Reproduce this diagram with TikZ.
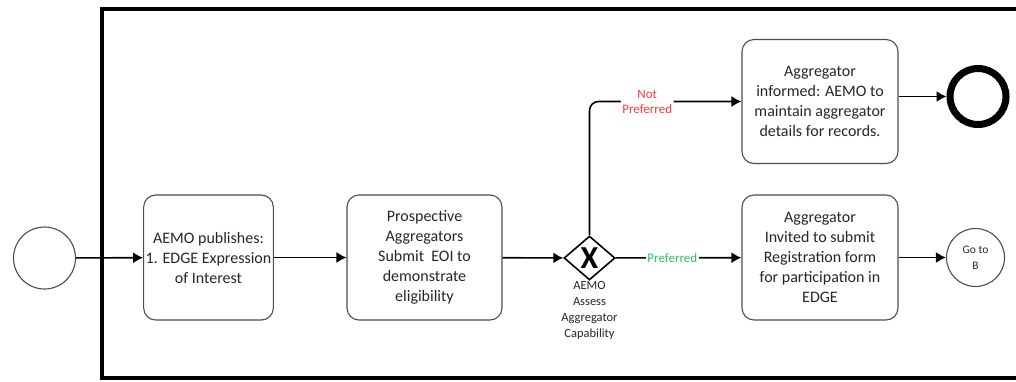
\documentclass[tikz,border=0pt]{standalone}
\usepackage{fontspec}
\setmainfont{Carlito}
\usetikzlibrary{arrows.meta,shapes.geometric}
\definecolor{txt}{HTML}{262626}
\definecolor{edgegray}{HTML}{4D4D4D}
\definecolor{npred}{HTML}{FF3B3B}
\definecolor{pgreen}{HTML}{2DC462}
\tikzset{
  task/.style={draw=edgegray, line width=1.1pt, rounded corners=12pt, align=center, text=txt,
    font=\fontsize{16}{20}\selectfont, inner sep=2pt},
  flow/.style={draw=black, line width=1.6pt, -{Latex[length=10pt,width=11pt]}},
  evt/.style={circle, draw=edgegray, line width=1.1pt, inner sep=0pt},
  lbl/.style={fill=white, inner sep=1.5pt, font=\fontsize{13}{15}\selectfont, align=center}
}
\begin{document}
\begin{tikzpicture}[x=1pt,y=-1pt]
\useasboundingbox (0,0) rectangle (1016,381);
\clip (0,0) rectangle (1016,381);
% pool frame
\draw[line width=4pt] (101.5,8.5) rectangle (1040,378);
% nodes
\node[evt, minimum size=62pt] (start) at (44.5,258) {};
\node[task, minimum width=127pt, minimum height=125pt] (t1) at (208.5,257.5)
  {AEMO publishes:\\1. EDGE Expression\\of Interest};
\node[task, minimum width=155pt, minimum height=125pt] (t2) at (424.5,257.5)
  {Prospective\\Aggregators\\Submit\ \ EOI to\\demonstrate\\eligibility};
\node[diamond, draw=black, line width=1.6pt, minimum width=51pt, minimum height=44pt,
  aspect=1.16, inner sep=0pt, fill=white] (gw) at (589.5,258) {};
\node[font=\fontsize{32}{32}\selectfont\bfseries, inner sep=0pt] (gwx) at (589.5,258.5) {X};
\node[align=center, text=txt, font=\fontsize{12.5}{16}\selectfont, anchor=north, inner sep=0pt]
  (gwl) at (589.5,281) {AEMO\\Assess\\Aggregator\\Capability};
\node[task, minimum width=156pt, minimum height=124pt] (t3) at (820,101.5)
  {Aggregator\\informed: AEMO to\\maintain aggregator\\details for records.};
\node[circle, draw=black, line width=7pt, minimum size=56pt, inner sep=0pt] (endev) at (978,96.5) {};
\node[task, minimum width=156pt, minimum height=125pt] (t4) at (820,257.5)
  {Aggregator\\Invited to submit\\Registration form\\for participation in\\EDGE};
\node[evt, minimum size=58pt, align=center, text=txt, font=\fontsize{11.5}{16}\selectfont]
  (goto) at (975.5,257.5) {Go to\\B};
% connectors
\draw[flow] (start) -- (t1);
\draw[flow] (t1) -- (t2);
\draw[flow] (t2) -- (gw);
\draw[flow] (gw) -- node[lbl, text=pgreen, pos=0.45] {Preferred} (t4);
\draw[flow, rounded corners=9pt] (gw.north) |- node[lbl, text=npred, pos=0.69] {Not\\Preferred} (t3.west);
\draw[flow] (t3.east |- endev.west) -- (endev.west);
\draw[flow] (t4) -- (goto);
\end{tikzpicture}
\end{document}
